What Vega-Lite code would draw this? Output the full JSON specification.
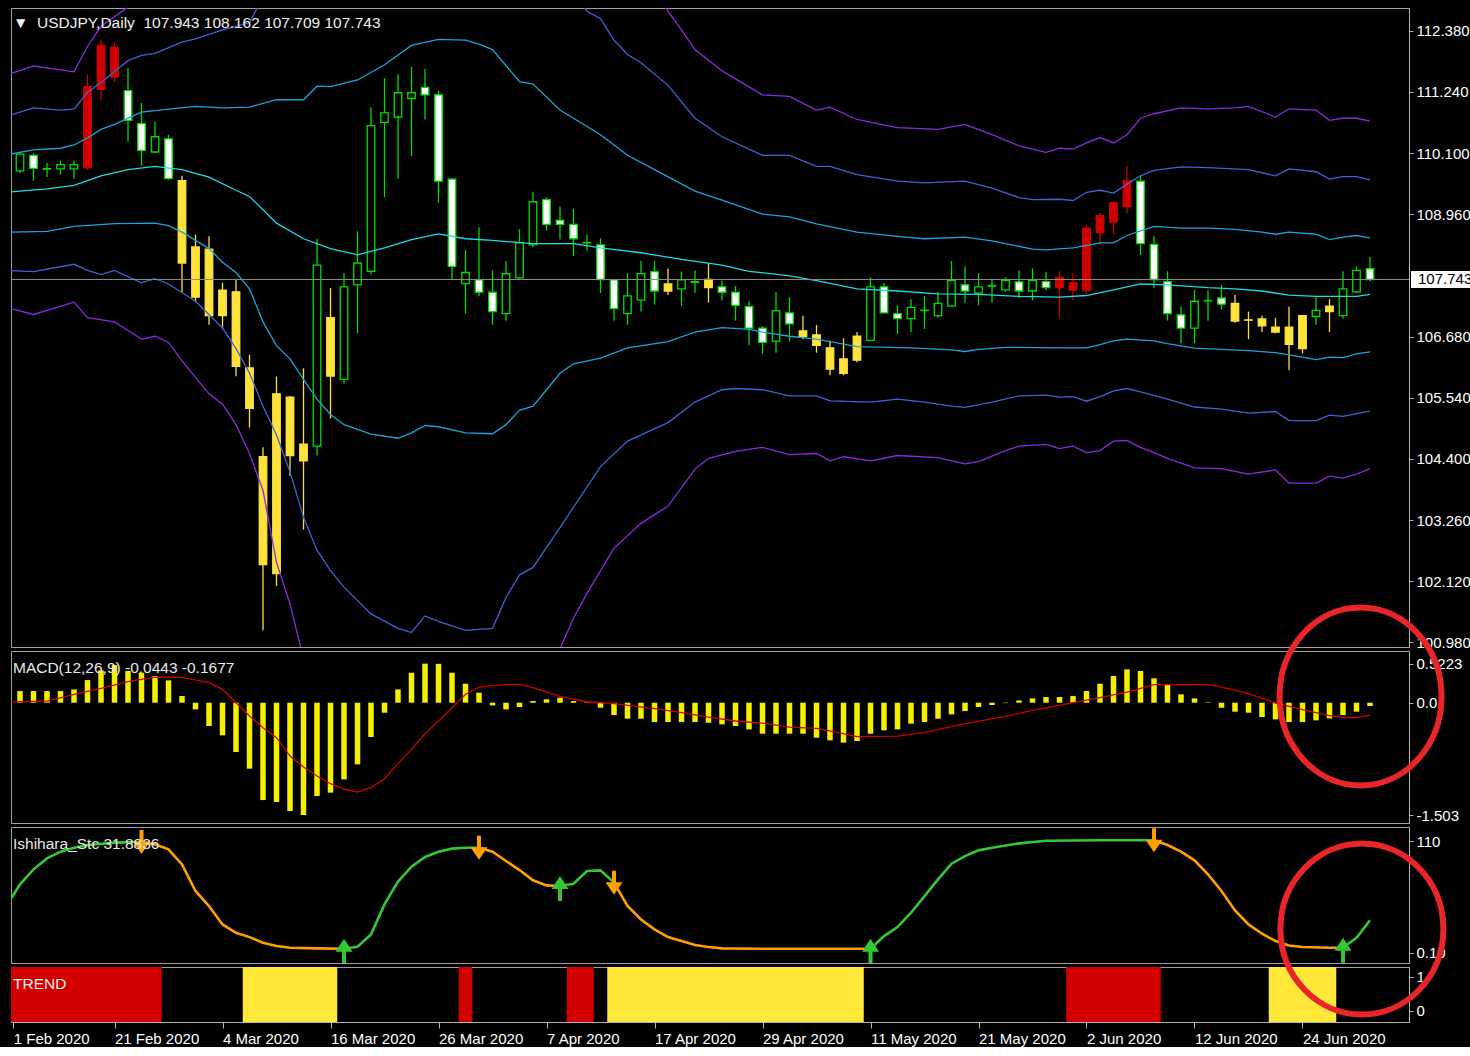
{
"$schema": "https://vega.github.io/schema/vega-lite/v6.json",
"background": "#000000",
"padding": {"left": 10, "top": 7, "right": 0, "bottom": 0},
"bounds": "flush",
"spacing": 4,
"resolve": {"scale": {"color": "independent", "fill": "independent", "stroke": "independent", "shape": "independent"}},
"config": {
  "view": {"stroke": "#a0a0a0", "strokeWidth": 1},
  "axis": {"labelFont": "Liberation Sans", "labelFontSize": 15, "labelColor": "#ffffff", "tickColor": "#b4b4b4", "domainColor": "#b4b4b4", "grid": false, "labelOverlap": false, "labelFlush": false, "tickSize": 4, "labelPadding": 3},
  "text": {"font": "Liberation Sans", "fontSize": 15.5}
},
"datasets": {
  "candles": [
    {"i":0,"o":109.767,"h":110.096,"l":109.728,"c":110.081,"k":"g"},
    {"i":1,"o":110.058,"h":110.096,"l":109.583,"c":109.813,"k":"g"},
    {"i":2,"o":109.800,"h":109.920,"l":109.652,"c":109.810,"k":"g"},
    {"i":3,"o":109.805,"h":109.958,"l":109.698,"c":109.882,"k":"g"},
    {"i":4,"o":109.805,"h":109.958,"l":109.621,"c":109.882,"k":"g"},
    {"i":5,"o":109.828,"h":111.568,"l":109.790,"c":111.338,"k":"r"},
    {"i":6,"o":111.285,"h":112.205,"l":111.078,"c":112.105,"k":"r"},
    {"i":7,"o":112.067,"h":112.166,"l":111.423,"c":111.515,"k":"r"},
    {"i":8,"o":111.262,"h":111.683,"l":110.311,"c":110.710,"k":"g"},
    {"i":9,"o":110.648,"h":111.032,"l":109.866,"c":110.150,"k":"g"},
    {"i":10,"o":110.119,"h":110.687,"l":110.096,"c":110.403,"k":"g"},
    {"i":11,"o":110.365,"h":110.441,"l":109.598,"c":109.621,"k":"g"},
    {"i":12,"o":109.583,"h":109.675,"l":107.490,"c":108.050,"k":"y"},
    {"i":13,"o":107.413,"h":108.579,"l":107.321,"c":108.349,"k":"y"},
    {"i":14,"o":108.310,"h":108.548,"l":106.900,"c":107.068,"k":"y"},
    {"i":15,"o":107.544,"h":107.682,"l":106.823,"c":107.068,"k":"y"},
    {"i":16,"o":107.513,"h":107.743,"l":105.941,"c":106.125,"k":"y"},
    {"i":17,"o":106.095,"h":106.340,"l":104.983,"c":105.343,"k":"y"},
    {"i":18,"o":104.439,"h":104.615,"l":101.203,"c":102.430,"k":"y"},
    {"i":19,"o":102.261,"h":105.934,"l":102.031,"c":105.612,"k":"y"},
    {"i":20,"o":105.550,"h":105.573,"l":104.078,"c":104.462,"k":"y"},
    {"i":21,"o":104.362,"h":106.087,"l":103.082,"c":104.676,"k":"y"},
    {"i":22,"o":104.638,"h":108.502,"l":104.462,"c":108.011,"k":"g"},
    {"i":23,"o":107.030,"h":107.582,"l":105.152,"c":105.941,"k":"y"},
    {"i":24,"o":105.880,"h":107.858,"l":105.803,"c":107.605,"k":"g"},
    {"i":25,"o":107.643,"h":108.640,"l":106.739,"c":108.050,"k":"g"},
    {"i":26,"o":107.896,"h":110.955,"l":107.835,"c":110.610,"k":"g"},
    {"i":27,"o":110.671,"h":111.499,"l":109.276,"c":110.848,"k":"g"},
    {"i":28,"o":110.771,"h":111.568,"l":109.621,"c":111.223,"k":"g"},
    {"i":29,"o":111.116,"h":111.706,"l":110.043,"c":111.223,"k":"g"},
    {"i":30,"o":111.323,"h":111.668,"l":110.725,"c":111.185,"k":"g"},
    {"i":31,"o":111.185,"h":111.262,"l":109.177,"c":109.575,"k":"g"},
    {"i":32,"o":109.613,"h":109.636,"l":107.735,"c":107.988,"k":"g"},
    {"i":33,"o":107.666,"h":108.295,"l":107.107,"c":107.873,"k":"g"},
    {"i":34,"o":107.735,"h":108.717,"l":107.429,"c":107.505,"k":"g"},
    {"i":35,"o":107.505,"h":107.912,"l":106.900,"c":107.145,"k":"g"},
    {"i":36,"o":107.107,"h":108.088,"l":106.976,"c":107.850,"k":"g"},
    {"i":37,"o":107.774,"h":108.678,"l":107.758,"c":108.425,"k":"g"},
    {"i":38,"o":108.387,"h":109.368,"l":108.349,"c":109.192,"k":"g"},
    {"i":39,"o":109.230,"h":109.276,"l":108.655,"c":108.770,"k":"g"},
    {"i":40,"o":108.847,"h":109.100,"l":108.487,"c":108.770,"k":"g"},
    {"i":41,"o":108.770,"h":109.062,"l":108.180,"c":108.502,"k":"g"},
    {"i":42,"o":108.425,"h":108.579,"l":108.272,"c":108.430,"k":"g"},
    {"i":43,"o":108.387,"h":108.510,"l":107.490,"c":107.743,"k":"g"},
    {"i":44,"o":107.735,"h":107.740,"l":106.976,"c":107.199,"k":"g"},
    {"i":45,"o":107.107,"h":107.858,"l":106.900,"c":107.436,"k":"g"},
    {"i":46,"o":107.360,"h":108.088,"l":107.145,"c":107.850,"k":"g"},
    {"i":47,"o":107.889,"h":108.088,"l":107.275,"c":107.528,"k":"g"},
    {"i":48,"o":107.659,"h":107.950,"l":107.452,"c":107.528,"k":"y"},
    {"i":49,"o":107.567,"h":107.889,"l":107.245,"c":107.735,"k":"g"},
    {"i":50,"o":107.700,"h":107.912,"l":107.490,"c":107.690,"k":"g"},
    {"i":51,"o":107.743,"h":108.050,"l":107.314,"c":107.590,"k":"y"},
    {"i":52,"o":107.605,"h":107.720,"l":107.352,"c":107.505,"k":"g"},
    {"i":53,"o":107.505,"h":107.620,"l":106.976,"c":107.260,"k":"g"},
    {"i":54,"o":107.237,"h":107.337,"l":106.516,"c":106.838,"k":"g"},
    {"i":55,"o":106.838,"h":106.877,"l":106.355,"c":106.570,"k":"g"},
    {"i":56,"o":106.593,"h":107.513,"l":106.378,"c":107.160,"k":"g"},
    {"i":57,"o":107.122,"h":107.413,"l":106.593,"c":106.915,"k":"g"},
    {"i":58,"o":106.785,"h":107.068,"l":106.631,"c":106.685,"k":"y"},
    {"i":59,"o":106.708,"h":106.892,"l":106.378,"c":106.516,"k":"y"},
    {"i":60,"o":106.470,"h":106.608,"l":105.957,"c":106.072,"k":"y"},
    {"i":61,"o":106.263,"h":106.647,"l":105.957,"c":105.995,"k":"y"},
    {"i":62,"o":106.240,"h":106.762,"l":106.202,"c":106.685,"k":"y"},
    {"i":63,"o":106.608,"h":107.781,"l":106.593,"c":107.605,"k":"g"},
    {"i":64,"o":107.605,"h":107.682,"l":107.107,"c":107.122,"k":"g"},
    {"i":65,"o":107.107,"h":107.260,"l":106.723,"c":107.015,"k":"g"},
    {"i":66,"o":107.015,"h":107.375,"l":106.762,"c":107.222,"k":"g"},
    {"i":67,"o":107.165,"h":107.436,"l":106.823,"c":107.170,"k":"g"},
    {"i":68,"o":107.068,"h":107.513,"l":107.030,"c":107.298,"k":"g"},
    {"i":69,"o":107.245,"h":108.088,"l":107.240,"c":107.720,"k":"g"},
    {"i":70,"o":107.643,"h":107.988,"l":107.314,"c":107.528,"k":"g"},
    {"i":71,"o":107.490,"h":107.858,"l":107.260,"c":107.605,"k":"g"},
    {"i":72,"o":107.620,"h":107.743,"l":107.314,"c":107.630,"k":"g"},
    {"i":73,"o":107.551,"h":107.781,"l":107.513,"c":107.720,"k":"g"},
    {"i":74,"o":107.697,"h":107.912,"l":107.398,"c":107.528,"k":"g"},
    {"i":75,"o":107.528,"h":107.950,"l":107.352,"c":107.720,"k":"g"},
    {"i":76,"o":107.704,"h":107.889,"l":107.544,"c":107.590,"k":"g"},
    {"i":77,"o":107.781,"h":107.896,"l":107.030,"c":107.590,"k":"r"},
    {"i":78,"o":107.544,"h":107.858,"l":107.352,"c":107.682,"k":"r"},
    {"i":79,"o":107.544,"h":108.755,"l":107.475,"c":108.694,"k":"r"},
    {"i":80,"o":108.617,"h":108.985,"l":108.387,"c":108.931,"k":"r"},
    {"i":81,"o":108.816,"h":109.200,"l":108.586,"c":109.177,"k":"r"},
    {"i":82,"o":109.100,"h":109.851,"l":108.985,"c":109.583,"k":"r"},
    {"i":83,"o":109.575,"h":109.675,"l":108.203,"c":108.410,"k":"g"},
    {"i":84,"o":108.395,"h":108.548,"l":107.590,"c":107.743,"k":"g"},
    {"i":85,"o":107.704,"h":107.896,"l":106.976,"c":107.107,"k":"g"},
    {"i":86,"o":107.084,"h":107.237,"l":106.555,"c":106.838,"k":"g"},
    {"i":87,"o":106.838,"h":107.544,"l":106.555,"c":107.337,"k":"g"},
    {"i":88,"o":107.345,"h":107.544,"l":106.976,"c":107.352,"k":"g"},
    {"i":89,"o":107.398,"h":107.643,"l":107.183,"c":107.283,"k":"g"},
    {"i":90,"o":107.298,"h":107.452,"l":106.938,"c":106.969,"k":"y"},
    {"i":91,"o":106.990,"h":107.145,"l":106.631,"c":106.985,"k":"y"},
    {"i":92,"o":107.007,"h":107.068,"l":106.762,"c":106.877,"k":"y"},
    {"i":93,"o":106.854,"h":107.030,"l":106.739,"c":106.762,"k":"y"},
    {"i":94,"o":106.854,"h":107.237,"l":106.049,"c":106.532,"k":"y"},
    {"i":95,"o":106.455,"h":107.080,"l":106.363,"c":107.068,"k":"y"},
    {"i":96,"o":107.053,"h":107.413,"l":106.900,"c":107.168,"k":"g"},
    {"i":97,"o":107.145,"h":107.375,"l":106.762,"c":107.245,"k":"y"},
    {"i":98,"o":107.068,"h":107.896,"l":107.015,"c":107.567,"k":"g"},
    {"i":99,"o":107.513,"h":107.988,"l":107.490,"c":107.912,"k":"g"},
    {"i":100,"o":107.943,"h":108.162,"l":107.709,"c":107.743,"k":"g"}
  ],
  "bands": [
    {"b":"u3","i":-1,"p":111.553},{"b":"u3","i":1,"p":111.722},{"b":"u3","i":4,"p":111.614},{"b":"u3","i":5,"p":112.090},{"b":"u3","i":6,"p":112.458},{"b":"u3","i":7,"p":112.642},{"b":"u3","i":8,"p":112.818},{"b":"u3","i":10,"p":113.3},{"b":"u3","i":15,"p":114.4},{"b":"u3","i":22,"p":116.2},{"b":"u3","i":30,"p":116.8},{"b":"u3","i":38,"p":115.8},{"b":"u3","i":44,"p":114.3},{"b":"u3","i":47,"p":113.2},{"b":"u3","i":48,"p":112.741},{"b":"u3","i":49,"p":112.396},{"b":"u3","i":50,"p":112.028},{"b":"u3","i":52,"p":111.630},{"b":"u3","i":55,"p":111.185},{"b":"u3","i":57,"p":111.154},{"b":"u3","i":59,"p":110.901},{"b":"u3","i":60,"p":110.955},{"b":"u3","i":62,"p":110.725},{"b":"u3","i":65,"p":110.572},{"b":"u3","i":68,"p":110.541},{"b":"u3","i":70,"p":110.633},{"b":"u3","i":72,"p":110.441},{"b":"u3","i":74,"p":110.234},{"b":"u3","i":76,"p":110.112},{"b":"u3","i":77,"p":110.189},{"b":"u3","i":78,"p":110.173},{"b":"u3","i":79,"p":110.288},{"b":"u3","i":80,"p":110.388},{"b":"u3","i":81,"p":110.288},{"b":"u3","i":82,"p":110.441},{"b":"u3","i":83,"p":110.748},{"b":"u3","i":84,"p":110.832},{"b":"u3","i":86,"p":110.940},{"b":"u3","i":88,"p":110.924},{"b":"u3","i":90,"p":110.940},{"b":"u3","i":91,"p":110.970},{"b":"u3","i":93,"p":110.771},{"b":"u3","i":94,"p":110.924},{"b":"u3","i":96,"p":110.901},{"b":"u3","i":97,"p":110.710},{"b":"u3","i":98,"p":110.748},{"b":"u3","i":99,"p":110.748},{"b":"u3","i":100,"p":110.695},
    {"b":"u2","i":-1,"p":110.786},{"b":"u2","i":1,"p":110.940},{"b":"u2","i":3,"p":110.901},{"b":"u2","i":4,"p":110.917},{"b":"u2","i":5,"p":111.231},{"b":"u2","i":6,"p":111.415},{"b":"u2","i":8,"p":111.821},{"b":"u2","i":9,"p":111.921},{"b":"u2","i":10,"p":111.959},{"b":"u2","i":12,"p":112.166},{"b":"u2","i":13,"p":112.228},{"b":"u2","i":15,"p":112.396},{"b":"u2","i":17,"p":112.527},{"b":"u2","i":18,"p":113.010},{"b":"u2","i":22,"p":114.2},{"b":"u2","i":27,"p":115.0},{"b":"u2","i":32,"p":114.8},{"b":"u2","i":37,"p":113.9},{"b":"u2","i":41,"p":113.1},{"b":"u2","i":42,"p":112.741},{"b":"u2","i":43,"p":112.603},{"b":"u2","i":44,"p":112.205},{"b":"u2","i":45,"p":111.936},{"b":"u2","i":46,"p":111.783},{"b":"u2","i":48,"p":111.361},{"b":"u2","i":50,"p":110.748},{"b":"u2","i":52,"p":110.403},{"b":"u2","i":55,"p":110.058},{"b":"u2","i":57,"p":110.058},{"b":"u2","i":59,"p":109.851},{"b":"u2","i":60,"p":109.851},{"b":"u2","i":62,"p":109.698},{"b":"u2","i":65,"p":109.575},{"b":"u2","i":67,"p":109.545},{"b":"u2","i":70,"p":109.575},{"b":"u2","i":72,"p":109.445},{"b":"u2","i":74,"p":109.269},{"b":"u2","i":75,"p":109.230},{"b":"u2","i":77,"p":109.238},{"b":"u2","i":78,"p":109.215},{"b":"u2","i":79,"p":109.368},{"b":"u2","i":80,"p":109.406},{"b":"u2","i":81,"p":109.353},{"b":"u2","i":82,"p":109.521},{"b":"u2","i":83,"p":109.675},{"b":"u2","i":84,"p":109.775},{"b":"u2","i":86,"p":109.843},{"b":"u2","i":88,"p":109.828},{"b":"u2","i":91,"p":109.790},{"b":"u2","i":93,"p":109.675},{"b":"u2","i":94,"p":109.805},{"b":"u2","i":96,"p":109.751},{"b":"u2","i":97,"p":109.613},{"b":"u2","i":98,"p":109.659},{"b":"u2","i":99,"p":109.659},{"b":"u2","i":100,"p":109.598},
    {"b":"u1","i":-1,"p":110.066},{"b":"u1","i":1,"p":110.158},{"b":"u1","i":3,"p":110.189},{"b":"u1","i":4,"p":110.250},{"b":"u1","i":5,"p":110.380},{"b":"u1","i":6,"p":110.541},{"b":"u1","i":7,"p":110.633},{"b":"u1","i":9,"p":110.863},{"b":"u1","i":11,"p":110.917},{"b":"u1","i":13,"p":110.970},{"b":"u1","i":15,"p":110.940},{"b":"u1","i":17,"p":110.955},{"b":"u1","i":19,"p":111.093},{"b":"u1","i":21,"p":111.093},{"b":"u1","i":22,"p":111.346},{"b":"u1","i":23,"p":111.338},{"b":"u1","i":25,"p":111.461},{"b":"u1","i":27,"p":111.745},{"b":"u1","i":29,"p":112.105},{"b":"u1","i":31,"p":112.220},{"b":"u1","i":33,"p":112.205},{"b":"u1","i":34,"p":112.128},{"b":"u1","i":35,"p":112.028},{"b":"u1","i":37,"p":111.430},{"b":"u1","i":38,"p":111.384},{"b":"u1","i":40,"p":110.901},{"b":"u1","i":43,"p":110.441},{"b":"u1","i":45,"p":110.058},{"b":"u1","i":47,"p":109.790},{"b":"u1","i":50,"p":109.391},{"b":"u1","i":52,"p":109.222},{"b":"u1","i":55,"p":108.962},{"b":"u1","i":57,"p":108.908},{"b":"u1","i":59,"p":108.778},{"b":"u1","i":62,"p":108.624},{"b":"u1","i":65,"p":108.548},{"b":"u1","i":67,"p":108.502},{"b":"u1","i":70,"p":108.532},{"b":"u1","i":72,"p":108.463},{"b":"u1","i":75,"p":108.310},{"b":"u1","i":76,"p":108.295},{"b":"u1","i":78,"p":108.333},{"b":"u1","i":80,"p":108.425},{"b":"u1","i":81,"p":108.425},{"b":"u1","i":82,"p":108.563},{"b":"u1","i":84,"p":108.732},{"b":"u1","i":86,"p":108.701},{"b":"u1","i":88,"p":108.701},{"b":"u1","i":90,"p":108.678},{"b":"u1","i":92,"p":108.624},{"b":"u1","i":93,"p":108.586},{"b":"u1","i":94,"p":108.624},{"b":"u1","i":96,"p":108.586},{"b":"u1","i":97,"p":108.487},{"b":"u1","i":98,"p":108.532},{"b":"u1","i":99,"p":108.563},{"b":"u1","i":100,"p":108.517},
    {"b":"m","i":-1,"p":109.368},{"b":"m","i":2,"p":109.430},{"b":"m","i":4,"p":109.498},{"b":"m","i":6,"p":109.675},{"b":"m","i":8,"p":109.790},{"b":"m","i":10,"p":109.851},{"b":"m","i":12,"p":109.790},{"b":"m","i":14,"p":109.652},{"b":"m","i":16,"p":109.406},{"b":"m","i":17,"p":109.291},{"b":"m","i":19,"p":108.793},{"b":"m","i":21,"p":108.502},{"b":"m","i":23,"p":108.318},{"b":"m","i":25,"p":108.203},{"b":"m","i":27,"p":108.333},{"b":"m","i":29,"p":108.487},{"b":"m","i":31,"p":108.594},{"b":"m","i":33,"p":108.502},{"b":"m","i":35,"p":108.471},{"b":"m","i":38,"p":108.410},{"b":"m","i":41,"p":108.410},{"b":"m","i":43,"p":108.333},{"b":"m","i":46,"p":108.241},{"b":"m","i":49,"p":108.118},{"b":"m","i":52,"p":108.011},{"b":"m","i":54,"p":107.896},{"b":"m","i":57,"p":107.812},{"b":"m","i":59,"p":107.720},{"b":"m","i":62,"p":107.567},{"b":"m","i":65,"p":107.528},{"b":"m","i":68,"p":107.475},{"b":"m","i":71,"p":107.467},{"b":"m","i":74,"p":107.429},{"b":"m","i":77,"p":107.413},{"b":"m","i":79,"p":107.444},{"b":"m","i":81,"p":107.551},{"b":"m","i":83,"p":107.659},{"b":"m","i":85,"p":107.643},{"b":"m","i":88,"p":107.590},{"b":"m","i":90,"p":107.567},{"b":"m","i":92,"p":107.528},{"b":"m","i":94,"p":107.452},{"b":"m","i":96,"p":107.429},{"b":"m","i":99,"p":107.429},{"b":"m","i":100,"p":107.467},
    {"b":"l1","i":-1,"p":108.625},{"b":"l1","i":2,"p":108.640},{"b":"l1","i":4,"p":108.732},{"b":"l1","i":7,"p":108.785},{"b":"l1","i":10,"p":108.793},{"b":"l1","i":11,"p":108.747},{"b":"l1","i":12,"p":108.625},{"b":"l1","i":13,"p":108.471},{"b":"l1","i":14,"p":108.318},{"b":"l1","i":15,"p":108.065},{"b":"l1","i":16,"p":107.873},{"b":"l1","i":17,"p":107.567},{"b":"l1","i":18,"p":106.953},{"b":"l1","i":19,"p":106.509},{"b":"l1","i":20,"p":106.263},{"b":"l1","i":21,"p":105.880},{"b":"l1","i":22,"p":105.512},{"b":"l1","i":23,"p":105.228},{"b":"l1","i":24,"p":105.037},{"b":"l1","i":26,"p":104.860},{"b":"l1","i":28,"p":104.784},{"b":"l1","i":29,"p":104.883},{"b":"l1","i":30,"p":105.021},{"b":"l1","i":31,"p":104.998},{"b":"l1","i":33,"p":104.883},{"b":"l1","i":35,"p":104.868},{"b":"l1","i":36,"p":105.037},{"b":"l1","i":37,"p":105.305},{"b":"l1","i":38,"p":105.382},{"b":"l1","i":39,"p":105.688},{"b":"l1","i":40,"p":105.995},{"b":"l1","i":41,"p":106.171},{"b":"l1","i":43,"p":106.278},{"b":"l1","i":45,"p":106.470},{"b":"l1","i":48,"p":106.585},{"b":"l1","i":50,"p":106.762},{"b":"l1","i":52,"p":106.846},{"b":"l1","i":54,"p":106.815},{"b":"l1","i":55,"p":106.762},{"b":"l1","i":57,"p":106.685},{"b":"l1","i":59,"p":106.631},{"b":"l1","i":62,"p":106.493},{"b":"l1","i":66,"p":106.470},{"b":"l1","i":69,"p":106.432},{"b":"l1","i":70,"p":106.401},{"b":"l1","i":71,"p":106.440},{"b":"l1","i":73,"p":106.478},{"b":"l1","i":77,"p":106.470},{"b":"l1","i":79,"p":106.470},{"b":"l1","i":80,"p":106.531},{"b":"l1","i":81,"p":106.600},{"b":"l1","i":82,"p":106.631},{"b":"l1","i":84,"p":106.600},{"b":"l1","i":85,"p":106.547},{"b":"l1","i":87,"p":106.463},{"b":"l1","i":89,"p":106.440},{"b":"l1","i":91,"p":106.417},{"b":"l1","i":93,"p":106.378},{"b":"l1","i":95,"p":106.294},{"b":"l1","i":96,"p":106.248},{"b":"l1","i":97,"p":106.294},{"b":"l1","i":98,"p":106.286},{"b":"l1","i":99,"p":106.355},{"b":"l1","i":100,"p":106.393},
    {"b":"l2","i":-1,"p":107.912},{"b":"l2","i":1,"p":107.889},{"b":"l2","i":4,"p":108.026},{"b":"l2","i":5,"p":107.912},{"b":"l2","i":6,"p":107.835},{"b":"l2","i":7,"p":107.912},{"b":"l2","i":9,"p":107.682},{"b":"l2","i":10,"p":107.758},{"b":"l2","i":11,"p":107.659},{"b":"l2","i":13,"p":107.337},{"b":"l2","i":15,"p":106.838},{"b":"l2","i":16,"p":106.455},{"b":"l2","i":17,"p":106.000},{"b":"l2","i":18,"p":105.382},{"b":"l2","i":19,"p":104.845},{"b":"l2","i":20,"p":104.155},{"b":"l2","i":21,"p":103.312},{"b":"l2","i":22,"p":102.698},{"b":"l2","i":23,"p":102.315},{"b":"l2","i":24,"p":102.008},{"b":"l2","i":26,"p":101.510},{"b":"l2","i":28,"p":101.242},{"b":"l2","i":29,"p":101.165},{"b":"l2","i":30,"p":101.472},{"b":"l2","i":31,"p":101.372},{"b":"l2","i":33,"p":101.203},{"b":"l2","i":35,"p":101.242},{"b":"l2","i":36,"p":101.817},{"b":"l2","i":37,"p":102.238},{"b":"l2","i":38,"p":102.376},{"b":"l2","i":40,"p":103.120},{"b":"l2","i":43,"p":104.255},{"b":"l2","i":45,"p":104.730},{"b":"l2","i":48,"p":105.075},{"b":"l2","i":50,"p":105.458},{"b":"l2","i":52,"p":105.688},{"b":"l2","i":53,"p":105.711},{"b":"l2","i":55,"p":105.688},{"b":"l2","i":57,"p":105.573},{"b":"l2","i":59,"p":105.573},{"b":"l2","i":60,"p":105.481},{"b":"l2","i":63,"p":105.458},{"b":"l2","i":65,"p":105.512},{"b":"l2","i":67,"p":105.458},{"b":"l2","i":69,"p":105.382},{"b":"l2","i":70,"p":105.359},{"b":"l2","i":72,"p":105.458},{"b":"l2","i":74,"p":105.573},{"b":"l2","i":76,"p":105.589},{"b":"l2","i":77,"p":105.550},{"b":"l2","i":78,"p":105.558},{"b":"l2","i":79,"p":105.474},{"b":"l2","i":80,"p":105.558},{"b":"l2","i":81,"p":105.665},{"b":"l2","i":82,"p":105.711},{"b":"l2","i":83,"p":105.650},{"b":"l2","i":85,"p":105.512},{"b":"l2","i":87,"p":105.366},{"b":"l2","i":89,"p":105.328},{"b":"l2","i":91,"p":105.251},{"b":"l2","i":93,"p":105.282},{"b":"l2","i":94,"p":105.113},{"b":"l2","i":96,"p":105.113},{"b":"l2","i":97,"p":105.213},{"b":"l2","i":98,"p":105.190},{"b":"l2","i":99,"p":105.244},{"b":"l2","i":100,"p":105.290},
    {"b":"l3","i":-1,"p":107.222},{"b":"l3","i":1,"p":107.091},{"b":"l3","i":4,"p":107.321},{"b":"l3","i":5,"p":107.030},{"b":"l3","i":7,"p":106.953},{"b":"l3","i":9,"p":106.631},{"b":"l3","i":10,"p":106.685},{"b":"l3","i":11,"p":106.570},{"b":"l3","i":12,"p":106.225},{"b":"l3","i":14,"p":105.612},{"b":"l3","i":15,"p":105.420},{"b":"l3","i":16,"p":105.037},{"b":"l3","i":17,"p":104.500},{"b":"l3","i":18,"p":103.810},{"b":"l3","i":19,"p":102.470},{"b":"l3","i":20,"p":101.700},{"b":"l3","i":21,"p":100.670},{"b":"l3","i":23,"p":100.2},{"b":"l3","i":27,"p":99.4},{"b":"l3","i":33,"p":99.2},{"b":"l3","i":37,"p":99.8},{"b":"l3","i":40,"p":100.858},{"b":"l3","i":41,"p":101.433},{"b":"l3","i":42,"p":101.893},{"b":"l3","i":44,"p":102.737},{"b":"l3","i":46,"p":103.197},{"b":"l3","i":48,"p":103.519},{"b":"l3","i":50,"p":104.209},{"b":"l3","i":51,"p":104.408},{"b":"l3","i":53,"p":104.538},{"b":"l3","i":55,"p":104.615},{"b":"l3","i":57,"p":104.477},{"b":"l3","i":59,"p":104.500},{"b":"l3","i":60,"p":104.362},{"b":"l3","i":61,"p":104.439},{"b":"l3","i":63,"p":104.362},{"b":"l3","i":65,"p":104.462},{"b":"l3","i":68,"p":104.423},{"b":"l3","i":69,"p":104.362},{"b":"l3","i":70,"p":104.308},{"b":"l3","i":71,"p":104.347},{"b":"l3","i":73,"p":104.554},{"b":"l3","i":74,"p":104.638},{"b":"l3","i":76,"p":104.669},{"b":"l3","i":77,"p":104.592},{"b":"l3","i":78,"p":104.638},{"b":"l3","i":79,"p":104.516},{"b":"l3","i":80,"p":104.554},{"b":"l3","i":81,"p":104.730},{"b":"l3","i":82,"p":104.745},{"b":"l3","i":83,"p":104.615},{"b":"l3","i":84,"p":104.516},{"b":"l3","i":85,"p":104.408},{"b":"l3","i":87,"p":104.232},{"b":"l3","i":89,"p":104.216},{"b":"l3","i":91,"p":104.117},{"b":"l3","i":93,"p":104.193},{"b":"l3","i":94,"p":103.948},{"b":"l3","i":96,"p":103.948},{"b":"l3","i":97,"p":104.078},{"b":"l3","i":98,"p":104.040},{"b":"l3","i":99,"p":104.117},{"b":"l3","i":100,"p":104.216}
  ],
  "macd": [
    {"i":0,"m":0.156},{"i":1,"m":0.156},{"i":2,"m":0.156},{"i":3,"m":0.156},{"i":4,"m":0.178},{"i":5,"m":0.303},{"i":6,"m":0.433},{"i":7,"m":0.504},{"i":8,"m":0.424},{"i":9,"m":0.401},{"i":10,"m":0.357},{"i":11,"m":0.299},{"i":12,"m":0.089},{"i":13,"m":-0.089},{"i":14,"m":-0.312},{"i":15,"m":-0.437},{"i":16,"m":-0.660},{"i":17,"m":-0.883},{"i":18,"m":-1.302},{"i":19,"m":-1.329},{"i":20,"m":-1.450},{"i":21,"m":-1.503},{"i":22,"m":-1.249},{"i":23,"m":-1.204},{"i":24,"m":-1.026},{"i":25,"m":-0.825},{"i":26,"m":-0.459},{"i":27,"m":-0.134},{"i":28,"m":0.178},{"i":29,"m":0.401},{"i":30,"m":0.5223},{"i":31,"m":0.520},{"i":32,"m":0.401},{"i":33,"m":0.254},{"i":34,"m":0.134},{"i":35,"m":-0.036},{"i":36,"m":-0.089},{"i":37,"m":-0.058},{"i":38,"m":0.022},{"i":39,"m":0.045},{"i":40,"m":0.067},{"i":41,"m":0.022},{"i":42,"m":0.006},{"i":43,"m":-0.067},{"i":44,"m":-0.165},{"i":45,"m":-0.214},{"i":46,"m":-0.214},{"i":47,"m":-0.259},{"i":48,"m":-0.259},{"i":49,"m":-0.259},{"i":50,"m":-0.259},{"i":51,"m":-0.268},{"i":52,"m":-0.290},{"i":53,"m":-0.312},{"i":54,"m":-0.357},{"i":55,"m":-0.415},{"i":56,"m":-0.415},{"i":57,"m":-0.415},{"i":58,"m":-0.415},{"i":59,"m":-0.468},{"i":60,"m":-0.504},{"i":61,"m":-0.535},{"i":62,"m":-0.513},{"i":63,"m":-0.415},{"i":64,"m":-0.370},{"i":65,"m":-0.357},{"i":66,"m":-0.281},{"i":67,"m":-0.259},{"i":68,"m":-0.214},{"i":69,"m":-0.156},{"i":70,"m":-0.112},{"i":71,"m":-0.058},{"i":72,"m":-0.031},{"i":73,"m":-0.006},{"i":74,"m":0.031},{"i":75,"m":0.058},{"i":76,"m":0.076},{"i":77,"m":0.076},{"i":78,"m":0.089},{"i":79,"m":0.156},{"i":80,"m":0.254},{"i":81,"m":0.357},{"i":82,"m":0.446},{"i":83,"m":0.424},{"i":84,"m":0.326},{"i":85,"m":0.245},{"i":86,"m":0.112},{"i":87,"m":0.058},{"i":88,"m":0.006},{"i":89,"m":-0.067},{"i":90,"m":-0.120},{"i":91,"m":-0.134},{"i":92,"m":-0.192},{"i":93,"m":-0.223},{"i":94,"m":-0.259},{"i":95,"m":-0.259},{"i":96,"m":-0.236},{"i":97,"m":-0.210},{"i":98,"m":-0.165},{"i":99,"m":-0.120},{"i":100,"m":-0.0443}
  ],
  "signal": [
    {"i":-1,"s":0.009},{"i":2,"s":0.022},{"i":4,"s":0.112},{"i":6,"s":0.192},{"i":8,"s":0.281},{"i":10,"s":0.343},{"i":12,"s":0.339},{"i":14,"s":0.268},{"i":15,"s":0.178},{"i":16,"s":0.0},{"i":17,"s":-0.178},{"i":18,"s":-0.335},{"i":19,"s":-0.468},{"i":20,"s":-0.714},{"i":21,"s":-0.861},{"i":22,"s":-0.981},{"i":23,"s":-1.084},{"i":24,"s":-1.155},{"i":25,"s":-1.195},{"i":26,"s":-1.137},{"i":27,"s":-1.017},{"i":28,"s":-0.816},{"i":29,"s":-0.624},{"i":30,"s":-0.415},{"i":31,"s":-0.245},{"i":32,"s":-0.067},{"i":33,"s":0.112},{"i":34,"s":0.210},{"i":36,"s":0.245},{"i":37,"s":0.245},{"i":38,"s":0.201},{"i":40,"s":0.085},{"i":42,"s":0.013},{"i":44,"s":-0.013},{"i":47,"s":-0.080},{"i":49,"s":-0.134},{"i":51,"s":-0.192},{"i":53,"s":-0.245},{"i":55,"s":-0.272},{"i":57,"s":-0.326},{"i":59,"s":-0.343},{"i":61,"s":-0.415},{"i":62,"s":-0.455},{"i":65,"s":-0.446},{"i":67,"s":-0.397},{"i":70,"s":-0.281},{"i":73,"s":-0.183},{"i":75,"s":-0.103},{"i":78,"s":0.0},{"i":80,"s":0.067},{"i":82,"s":0.143},{"i":84,"s":0.241},{"i":88,"s":0.245},{"i":90,"s":0.169},{"i":91,"s":0.120},{"i":93,"s":-0.004},{"i":95,"s":-0.094},{"i":97,"s":-0.174},{"i":98,"s":-0.201},{"i":99,"s":-0.201},{"i":100,"s":-0.1677}
  ],
  "ish": [
    {"seg":1,"col":"g","i":-1,"v":46.0},{"seg":1,"col":"g","i":0,"v":67.3},{"seg":1,"col":"g","i":1,"v":82.1},{"seg":1,"col":"g","i":2,"v":92.9},{"seg":1,"col":"g","i":3,"v":99.5},{"seg":1,"col":"g","i":4,"v":103.4},{"seg":1,"col":"g","i":5,"v":106.1},{"seg":1,"col":"g","i":7,"v":108.4},{"seg":1,"col":"g","i":9,"v":109.0},
    {"seg":2,"col":"o","i":9,"v":109.0},{"seg":2,"col":"o","i":10,"v":106.7},{"seg":2,"col":"o","i":11,"v":101.8},{"seg":2,"col":"o","i":12,"v":87.0},{"seg":2,"col":"o","i":13,"v":60.8},{"seg":2,"col":"o","i":14,"v":46.0},{"seg":2,"col":"o","i":15,"v":27.9},{"seg":2,"col":"o","i":16,"v":19.7},{"seg":2,"col":"o","i":17,"v":15.4},{"seg":2,"col":"o","i":18,"v":9.9},{"seg":2,"col":"o","i":19,"v":6.6},{"seg":2,"col":"o","i":20,"v":4.9},{"seg":2,"col":"o","i":22,"v":4.3},{"seg":2,"col":"o","i":24,"v":3.9},
    {"seg":3,"col":"g","i":24,"v":3.9},{"seg":3,"col":"g","i":25,"v":5.9},{"seg":3,"col":"g","i":26,"v":18.1},{"seg":3,"col":"g","i":27,"v":47.6},{"seg":3,"col":"g","i":28,"v":70.0},{"seg":3,"col":"g","i":29,"v":84.7},{"seg":3,"col":"g","i":30,"v":94.3},{"seg":3,"col":"g","i":31,"v":99.5},{"seg":3,"col":"g","i":32,"v":102.5},{"seg":3,"col":"g","i":33,"v":103.4},{"seg":3,"col":"g","i":34,"v":103.4},
    {"seg":4,"col":"o","i":34,"v":103.4},{"seg":4,"col":"o","i":35,"v":99.5},{"seg":4,"col":"o","i":36,"v":90.3},{"seg":4,"col":"o","i":37,"v":81.4},{"seg":4,"col":"o","i":38,"v":71.3},{"seg":4,"col":"o","i":39,"v":66.3},{"seg":4,"col":"o","i":40,"v":65.7},
    {"seg":5,"col":"g","i":40,"v":65.7},{"seg":5,"col":"g","i":41,"v":68.0},{"seg":5,"col":"g","i":42,"v":80.5},{"seg":5,"col":"g","i":43,"v":81.1},{"seg":5,"col":"g","i":44,"v":69.0},
    {"seg":6,"col":"o","i":44,"v":69.0},{"seg":6,"col":"o","i":45,"v":46.0},{"seg":6,"col":"o","i":46,"v":32.8},{"seg":6,"col":"o","i":47,"v":23.0},{"seg":6,"col":"o","i":48,"v":15.4},{"seg":6,"col":"o","i":49,"v":11.5},{"seg":6,"col":"o","i":50,"v":7.6},{"seg":6,"col":"o","i":51,"v":5.6},{"seg":6,"col":"o","i":52,"v":4.3},{"seg":6,"col":"o","i":55,"v":3.9},{"seg":6,"col":"o","i":63,"v":3.9},
    {"seg":7,"col":"g","i":63,"v":3.9},{"seg":7,"col":"g","i":64,"v":16.4},{"seg":7,"col":"g","i":65,"v":25.3},{"seg":7,"col":"g","i":66,"v":39.4},{"seg":7,"col":"g","i":67,"v":55.8},{"seg":7,"col":"g","i":68,"v":72.2},{"seg":7,"col":"g","i":69,"v":87.7},{"seg":7,"col":"g","i":70,"v":95.2},{"seg":7,"col":"g","i":71,"v":100.8},{"seg":7,"col":"g","i":72,"v":103.4},{"seg":7,"col":"g","i":74,"v":107.7},{"seg":7,"col":"g","i":76,"v":110.3},{"seg":7,"col":"g","i":80,"v":110.7},{"seg":7,"col":"g","i":84,"v":110.7},
    {"seg":8,"col":"o","i":84,"v":110.7},{"seg":8,"col":"o","i":85,"v":106.1},{"seg":8,"col":"o","i":86,"v":99.5},{"seg":8,"col":"o","i":87,"v":91.0},{"seg":8,"col":"o","i":88,"v":77.2},{"seg":8,"col":"o","i":89,"v":60.8},{"seg":8,"col":"o","i":90,"v":41.7},{"seg":8,"col":"o","i":91,"v":27.9},{"seg":8,"col":"o","i":92,"v":18.7},{"seg":8,"col":"o","i":93,"v":11.5},{"seg":8,"col":"o","i":94,"v":7.2},{"seg":8,"col":"o","i":95,"v":5.6},{"seg":8,"col":"o","i":97,"v":4.9},{"seg":8,"col":"o","i":98,"v":4.9},
    {"seg":9,"col":"g","i":98,"v":4.9},{"seg":9,"col":"g","i":99,"v":14.8},{"seg":9,"col":"g","i":100,"v":31.88}
  ],
  "arrows": [
    {"i":9,"v":109.0,"d":"down"},{"i":24,"v":3.9,"d":"up"},{"i":34,"v":103.4,"d":"down"},{"i":40,"v":65.7,"d":"up"},{"i":44,"v":69.0,"d":"down"},{"i":63,"v":3.9,"d":"up"},{"i":84,"v":110.7,"d":"down"},{"i":98,"v":4.9,"d":"up"}
  ],
  "trend": [
    {"from":-1.5,"to":10.5,"t":"r"},{"from":16.5,"to":23.5,"t":"y"},{"from":32.5,"to":33.5,"t":"r"},{"from":40.5,"to":42.5,"t":"r"},{"from":43.5,"to":62.5,"t":"y"},{"from":77.5,"to":84.5,"t":"r"},{"from":92.5,"to":97.5,"t":"y"}
  ]
},
"vconcat": [
  {
    "width": 1398, "height": 639,
    "layer": [
      {"data": {"name": "candles"}, "mark": {"type": "rule", "strokeWidth": 1.3},
       "encoding": {
         "x": {"field": "i", "type": "quantitative", "scale": {"domain": [-0.667, 102.889], "nice": false, "zero": false, "padding": 0}, "axis": null},
         "y": {"field": "l", "type": "quantitative", "scale": {"domain": [100.893, 112.803], "nice": false, "zero": false}, "axis": {"orient": "right", "title": null, "values": [100.98, 102.12, 103.26, 104.4, 105.54, 106.68, 108.96, 110.1, 111.24, 112.38], "format": ".3f"}},
         "y2": {"field": "h"},
         "stroke": {"field": "k", "type": "nominal", "scale": {"domain": ["g", "y", "r"], "range": ["#00dc00", "#ffe23c", "#d00000"]}, "legend": null}
       }},
      {"data": {"name": "candles"}, "mark": {"type": "bar", "width": 7.5, "strokeWidth": 1.3},
       "encoding": {
         "x": {"field": "i", "type": "quantitative"},
         "y": {"field": "o", "type": "quantitative"},
         "y2": {"field": "c"},
         "stroke": {"field": "k", "type": "nominal", "legend": null},
         "fill": {"condition": [{"test": "datum.k == 'g' && datum.c >= datum.o", "value": "#000000"}, {"test": "datum.k == 'g'", "value": "#ffffff"}, {"test": "datum.k == 'y'", "value": "#ffe23c"}], "value": "#d00000"}
       }},
      {"data": {"name": "bands"}, "mark": {"type": "line", "strokeWidth": 1.3, "clip": true},
       "encoding": {
         "x": {"field": "i", "type": "quantitative"},
         "y": {"field": "p", "type": "quantitative"},
         "color": {"field": "b", "type": "nominal", "scale": {"domain": ["u3", "u2", "u1", "m", "l1", "l2", "l3"], "range": ["#8a2be2", "#3f63d6", "#1ca4dc", "#1cdcea", "#1ca4dc", "#3f63d6", "#8a2be2"]}, "legend": null}
       }},
      {"data": {"values": [{}]}, "mark": {"type": "rule", "color": "#8c8c8c", "strokeWidth": 1},
       "encoding": {"y": {"datum": 107.743}}},
      {"data": {"values": [{}]}, "mark": {"type": "text", "align": "left", "baseline": "middle", "color": "#f0f0f0", "text": "▼\u00a0\u00a0USDJPY,Daily\u00a0\u00a0107.943 108.162 107.709 107.743"},
       "encoding": {"x": {"datum": -0.52}, "y": {"datum": 112.52}}},
      {"data": {"values": [{}]}, "mark": {"type": "point", "shape": "M-1,-0.283 L1,-0.283 L1,0.283 L-1,0.283 Z", "size": 3600, "filled": true, "fill": "#ffffff", "opacity": 1, "strokeWidth": 0, "xOffset": 32, "clip": false},
       "encoding": {"x": {"datum": 102.889}, "y": {"datum": 107.743}}},
      {"data": {"values": [{}]}, "mark": {"type": "text", "align": "left", "baseline": "middle", "color": "#000000", "fontSize": 15, "dx": 9, "text": "107.743"},
       "encoding": {"x": {"datum": 102.889}, "y": {"datum": 107.743}}}
    ]
  },
  {
    "width": 1398, "height": 172,
    "layer": [
      {"data": {"name": "macd"}, "mark": {"type": "bar", "width": 5.5, "color": "#f5f000"},
       "encoding": {
         "x": {"field": "i", "type": "quantitative", "scale": {"domain": [-0.667, 102.889], "nice": false, "zero": false, "padding": 0}, "axis": null},
         "y": {"field": "m", "type": "quantitative", "scale": {"domain": [-1.61, 0.692], "nice": false, "zero": false}, "axis": {"orient": "right", "title": null, "values": [-1.503, 0, 0.5223], "labelExpr": "datum.value == 0 ? '0.0' : (datum.value > 0 ? '0.5223' : '-1.503')"}},
         "y2": {"datum": 0}
       }},
      {"data": {"name": "signal"}, "mark": {"type": "line", "color": "#d00000", "strokeWidth": 1.3, "clip": true},
       "encoding": {"x": {"field": "i", "type": "quantitative"}, "y": {"field": "s", "type": "quantitative"}}},
      {"data": {"values": [{}]}, "mark": {"type": "text", "align": "left", "baseline": "middle", "color": "#e8e8e8", "text": "MACD(12,26,9) -0.0443 -0.1677"},
       "encoding": {"x": {"datum": -0.52}, "y": {"datum": 0.464}}},
      {"data": {"values": [{}]}, "mark": {"type": "point", "shape": "M-0.91,0 A0.91,1 0 1,0 0.91,0 A0.91,1 0 1,0 -0.91,0 Z", "size": 31684, "filled": false, "stroke": "#e8262a", "strokeWidth": 6, "opacity": 1, "clip": false},
       "encoding": {"x": {"datum": 99.3}, "y": {"datum": 0.083}}}
    ]
  },
  {
    "width": 1398, "height": 136,
    "layer": [
      {"data": {"name": "ish"}, "mark": {"type": "line", "strokeWidth": 2.6, "clip": true},
       "encoding": {
         "x": {"field": "i", "type": "quantitative", "scale": {"domain": [-0.667, 102.889], "nice": false, "zero": false, "padding": 0}, "axis": null},
         "y": {"field": "v", "type": "quantitative", "scale": {"domain": [-10.1, 123.8], "nice": false, "zero": false}, "axis": {"orient": "right", "title": null, "values": [0, 110], "labelExpr": "datum.value == 0 ? '0.10' : '110'"}},
         "color": {"field": "col", "type": "nominal", "scale": {"domain": ["g", "o"], "range": ["#34c834", "#ffa000"]}, "legend": null},
         "detail": {"field": "seg"}
       }},
      {"data": {"name": "arrows"}, "mark": {"type": "point", "filled": true, "size": 400, "opacity": 1, "strokeWidth": 0, "clip": true},
       "encoding": {
         "x": {"field": "i", "type": "quantitative"},
         "y": {"field": "v", "type": "quantitative"},
         "shape": {"field": "d", "type": "nominal", "scale": {"domain": ["up", "down"], "range": ["M0,-1 L0.85,0.3 L0.2,0.3 L0.2,1.5 L-0.2,1.5 L-0.2,0.3 L-0.85,0.3 Z", "M0,1.2 L0.85,-0.05 L0.2,-0.05 L0.2,-1.2 L-0.2,-1.2 L-0.2,-0.05 L-0.85,-0.05 Z"]}, "legend": null},
         "fill": {"field": "d", "type": "nominal", "scale": {"domain": ["up", "down"], "range": ["#34c834", "#ffa000"]}, "legend": null}
       }},
      {"data": {"values": [{}]}, "mark": {"type": "text", "align": "left", "baseline": "middle", "color": "#e8e8e8", "text": "Ishihara_Stc 31.8836"},
       "encoding": {"x": {"datum": -0.52}, "y": {"datum": 107.0}}}
    ]
  },
  {
    "width": 1398, "height": 55,
    "layer": [
      {"data": {"name": "trend"}, "mark": {"type": "rect", "clip": true},
       "encoding": {
         "x": {"field": "from", "type": "quantitative", "scale": {"domain": [-0.667, 102.889], "nice": false, "zero": false, "padding": 0},
               "axis": {"orient": "bottom", "title": null, "values": [-0.5, 7, 15, 23, 31, 39, 47, 55, 63, 71, 79, 87, 95], "tickSize": 6, "labelPadding": 3, "labelAlign": "left", "labelBaseline": "top",
                        "labelExpr": "datum.value < 0 ? '1 Feb 2020' : datum.value == 7 ? '21 Feb 2020' : datum.value == 15 ? '4 Mar 2020' : datum.value == 23 ? '16 Mar 2020' : datum.value == 31 ? '26 Mar 2020' : datum.value == 39 ? '7 Apr 2020' : datum.value == 47 ? '17 Apr 2020' : datum.value == 55 ? '29 Apr 2020' : datum.value == 63 ? '11 May 2020' : datum.value == 71 ? '21 May 2020' : datum.value == 79 ? '2 Jun 2020' : datum.value == 87 ? '12 Jun 2020' : '24 Jun 2020'"}},
         "x2": {"field": "to"},
         "y": {"datum": 1.294, "type": "quantitative", "scale": {"domain": [-0.324, 1.294], "nice": false, "zero": false}, "axis": {"orient": "right", "title": null, "values": [0, 1], "format": "d"}},
         "y2": {"datum": -0.324},
         "color": {"field": "t", "type": "nominal", "scale": {"domain": ["r", "y"], "range": ["#d40000", "#ffe83a"]}, "legend": null}
       }},
      {"data": {"values": [{}]}, "mark": {"type": "text", "align": "left", "baseline": "middle", "color": "#f0f0f0", "text": "TREND"},
       "encoding": {"x": {"datum": -0.52}, "y": {"datum": 0.794}}},
      {"data": {"values": [{}]}, "mark": {"type": "point", "shape": "M-0.953,0 A0.953,1 0 1,0 0.953,0 A0.953,1 0 1,0 -0.953,0 Z", "size": 29241, "filled": false, "stroke": "#e8262a", "strokeWidth": 6, "opacity": 1, "clip": false},
       "encoding": {"x": {"datum": 99.4}, "y": {"datum": 2.412}}}
    ]
  }
]
}
